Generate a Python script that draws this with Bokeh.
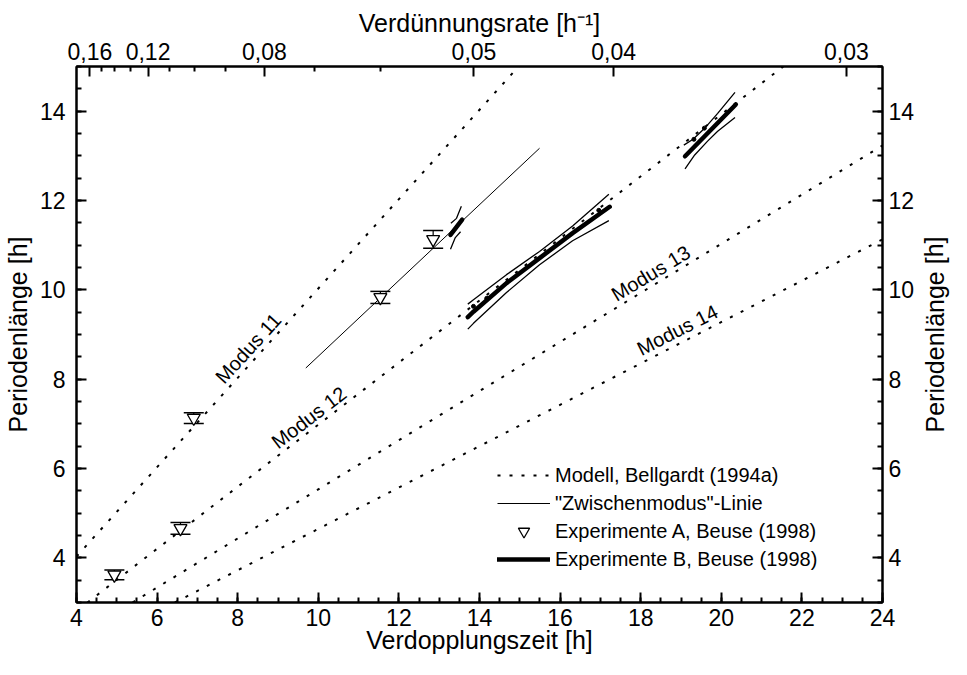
import math
from bokeh.plotting import figure
from bokeh.layouts import row
from bokeh.models import (Range1d, LinearAxis, SingleIntervalTicker, FixedTicker,
                          ColumnDataSource, Whisker, TeeHead, Legend, LegendItem)
from bokeh.core.properties import value
from bokeh.embed import file_html
from bokeh.resources import INLINE

# ---------------- data ----------------
# top axis: dilution rate D [1/h], position = ln2 / D (doubling time)
top_rates = [0.16, 0.12, 0.08, 0.05, 0.04, 0.03]
top_labels = ["0,16", "0,12", "0,08", "0,05", "0,04", "0,03"]
top_minor_rates = [0.15, 0.14, 0.13, 0.11, 0.10, 0.09, 0.07, 0.06]

# model lines (Bellgardt 1994a), start/end points
modus_names = ["Modus 11", "Modus 12", "Modus 13", "Modus 14"]
modus_x0 = [4.0, 4.27, 5.39, 6.44]
modus_y0 = [4.03, 3.0, 3.0, 3.0]
modus_x1 = [15.0, 21.54, 24.0, 24.0]
modus_y1 = [15.03, 15.0, 13.23, 11.13]
# label placement along the lines
modus_label_x = [8.26, 9.77, 18.25, 18.91]
modus_label_y = [8.69, 7.14, 10.37, 9.10]
modus_label_deg = [47.7, 37.3, 31.1, 26.9]

# "Zwischenmodus"-Linie
zw_x = [9.69, 15.49]
zw_y = [8.25, 13.17]

# Experimente A (Beuse 1998)
a_x = [4.94, 6.58, 6.91, 11.54, 12.85]
a_y = [3.62, 4.66, 7.13, 9.83, 11.13]
a_err = [0.11, 0.13, 0.12, 0.135, 0.20]

# Experimente B (Beuse 1998): fitted segments and confidence bands
b_x = [[13.28, 13.57],
       [13.71, 13.85, 14.67, 15.49, 16.31, 17.23],
       [19.10, 20.36]]
b_y = [[11.23, 11.57],
       [9.39, 9.51, 10.15, 10.71, 11.27, 11.86],
       [12.99, 14.15]]
band_x = [[13.29, 13.43, 13.55],
          [13.28, 13.40, 13.53],
          [13.71, 13.85, 14.67, 15.49, 16.31, 17.21],
          [13.71, 13.85, 14.67, 15.49, 16.31, 17.21],
          [19.07, 19.30, 19.58, 19.91, 20.34],
          [19.10, 19.34, 19.66, 19.91, 20.34]]
band_y = [[11.49, 11.60, 11.87],
          [10.91, 11.17, 11.30],
          [9.68, 9.78, 10.34, 10.86, 11.43, 12.14],
          [9.12, 9.25, 9.94, 10.56, 11.10, 11.55],
          [13.24, 13.37, 13.61, 13.95, 14.42],
          [12.71, 13.02, 13.33, 13.55, 13.86]]
b_dot_x = [13.85, 14.18, 16.96, 19.32, 19.58]
b_dot_y = [9.63, 9.81, 11.78, 13.37, 13.62]

y_title = "Periodenlänge [h]"

# ---------------- figure ----------------
FONT = "Liberation Sans"
TICK_FS = "23px"
TITLE_FS = "25px"
X_RANGE = (4, 24)
Y_RANGE = (3, 15)

p = figure(width=917, height=659, x_range=Range1d(*X_RANGE), y_range=Range1d(*Y_RANGE),
           output_backend="svg", toolbar_location=None,
           min_border_left=71, min_border_right=32, min_border_top=66, min_border_bottom=57)
p.xgrid.grid_line_color = None
p.ygrid.grid_line_color = None
p.outline_line_color = "black"
p.outline_line_width = 2
p.background_fill_color = "white"
p.border_fill_color = "white"


def style_axis(ax):
    ax.axis_line_width = 2
    ax.axis_line_color = "black"
    ax.major_tick_in = 10
    ax.major_tick_out = 0
    ax.minor_tick_in = 5
    ax.minor_tick_out = 0
    ax.major_tick_line_width = 2
    ax.minor_tick_line_width = 2
    ax.major_tick_line_color = "black"
    ax.minor_tick_line_color = "black"
    ax.major_label_text_font = FONT
    ax.major_label_text_font_size = TICK_FS
    ax.major_label_text_color = "black"
    ax.axis_label_text_font = FONT
    ax.axis_label_text_font_size = TITLE_FS
    ax.axis_label_text_font_style = "normal"
    ax.axis_label_text_color = "black"


xb = p.xaxis[0]
xb.ticker = SingleIntervalTicker(interval=2, num_minor_ticks=4)
xb.axis_label = "Verdopplungszeit [h]"
style_axis(xb)
xb.major_label_standoff = 6
xb.axis_label_standoff = -3

yl = p.yaxis[0]
yl.ticker = SingleIntervalTicker(interval=2, num_minor_ticks=4)
yl.axis_label = y_title
style_axis(yl)
yl.major_label_standoff = 11
yl.axis_label_standoff = 5

top_pos = [math.log(2) / r for r in top_rates]
top_minor = [math.log(2) / r for r in top_minor_rates]
xt = LinearAxis(ticker=FixedTicker(ticks=top_pos, minor_ticks=top_minor),
                major_label_overrides={pos: lab for pos, lab in zip(top_pos, top_labels)},
                axis_label="Verdünnungsrate [h⁻¹]")
style_axis(xt)
xt.major_label_standoff = 7
xt.axis_label_standoff = 3
p.add_layout(xt, "above")

yr = LinearAxis(ticker=SingleIntervalTicker(interval=2, num_minor_ticks=4))
style_axis(yr)
yr.major_label_standoff = 6
p.add_layout(yr, "right")

# ---------------- glyphs ----------------
mod_src = ColumnDataSource(dict(xs=[[a, b] for a, b in zip(modus_x0, modus_x1)],
                                ys=[[a, b] for a, b in zip(modus_y0, modus_y1)]))
r_mod = p.multi_line("xs", "ys", source=mod_src, line_color="black", line_width=2,
                     line_dash="3 9")

r_zw = p.line(zw_x, zw_y, line_color="black", line_width=1)

p.multi_line(band_x, band_y, line_color="black", line_width=1.3)
r_b = p.multi_line(b_x, b_y, line_color="black", line_width=4.5, line_cap="round")
p.scatter(b_dot_x, b_dot_y, size=4, color="black")

a_src = ColumnDataSource(dict(x=a_x, y=a_y,
                              upper=[y + e for y, e in zip(a_y, a_err)],
                              lower=[y - e for y, e in zip(a_y, a_err)]))
wh = Whisker(source=a_src, base="x", upper="upper", lower="lower", dimension="height",
             line_color="black", line_width=1.2, level="underlay",
             upper_head=TeeHead(size=20, line_color="black", line_width=1.5),
             lower_head=TeeHead(size=20, line_color="black", line_width=1.5))
p.add_layout(wh)
r_a = p.scatter("x", "y", source=a_src, marker="inverted_triangle", size=13,
                fill_color="white", line_color="black", line_width=1.3)

lab_src = ColumnDataSource(dict(x=modus_label_x, y=modus_label_y, text=modus_names,
                                angle=[math.radians(d) for d in modus_label_deg]))
p.text("x", "y", text="text", angle="angle", source=lab_src, text_align="center",
       text_baseline="middle", text_font=value(FONT), text_font_size="20px",
       text_color="black")

legend = Legend(items=[
    LegendItem(label="Modell, Bellgardt (1994a)", renderers=[r_mod]),
    LegendItem(label="\"Zwischenmodus\"-Linie", renderers=[r_zw]),
    LegendItem(label="Experimente A, Beuse (1998)", renderers=[r_a]),
    LegendItem(label="Experimente B, Beuse (1998)", renderers=[r_b]),
], location=(421, 29), background_fill_alpha=0, border_line_color=None,
    label_text_font=FONT, label_text_font_size="20px", label_text_color="black",
    glyph_width=53, glyph_height=28, label_height=28, spacing=0, padding=0, margin=0,
    label_standoff=5)
p.add_layout(legend)

# ---------------- narrow strip carrying the right-hand axis title ----------------
p2 = figure(width=34, height=659, x_range=Range1d(0, 1), y_range=Range1d(*Y_RANGE),
            output_backend="svg", toolbar_location=None,
            x_axis_location=None, y_axis_location=None,
            min_border_left=0, min_border_right=0, min_border_top=66, min_border_bottom=57)
p2.xgrid.grid_line_color = None
p2.ygrid.grid_line_color = None
p2.outline_line_color = None
p2.background_fill_color = "white"
p2.border_fill_color = "white"
p2.text(x=[0.5], y=[sum(Y_RANGE) / 2], text=[y_title], angle=[math.pi / 2],
        text_align="center", text_baseline="middle", text_font=value(FONT),
        text_font_size=TITLE_FS, text_color="black")

layout = row(p, p2, spacing=0)
open("out.html", "w").write(file_html(layout, INLINE))
